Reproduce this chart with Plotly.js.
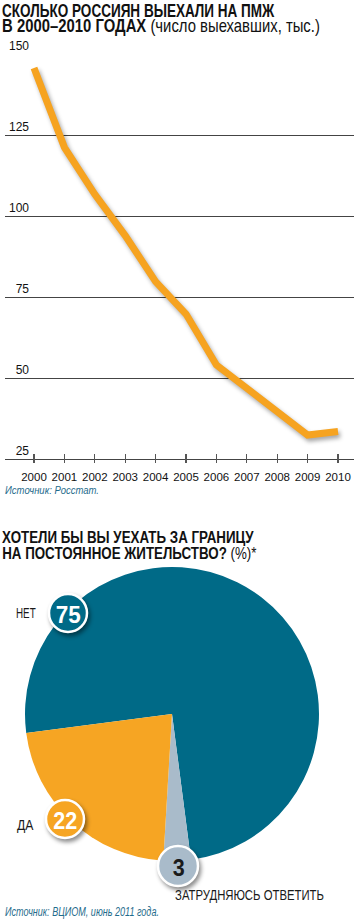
<!DOCTYPE html>
<html>
<head>
<meta charset="utf-8">
<script src="https://cdn.plot.ly/plotly-3.0.1.min.js"></script>
<style>
html,body{margin:0;padding:0;background:#fff;}
#chart{width:355px;height:920px;}
</style>
</head>
<body>
<div id="chart"></div>
<script>
// ---- data ----
const years = [2000, 2001, 2002, 2003, 2004, 2005, 2006, 2007, 2008, 2009, 2010];
const emigrants = [145.7, 121.2, 106.7, 94.0, 79.8, 69.8, 54.1, 47.0, 39.5, 32.5, 33.6];
const yTickVals = [25, 50, 75, 100, 125, 150];
const yTickText = ['\u200725', '\u200750', '\u200775', '100', '125', '150'];
const pieLabels = ['НЕТ', 'ЗАТРУДНЯЮСЬ ОТВЕТИТЬ', 'ДА'];
const pieValues = [75, 3, 22];

// ---- helpers ----
const W = 355, H = 920;
const px = x => x / W;
const py = y => 1 - y / H;
const FONT = "'Liberation Sans', Arial, sans-serif";
const BLUE = '#006a87', ORANGE = '#f6a523', GREY = '#a9bbca';

const lineTrace = {
  type: 'scatter', mode: 'lines', x: years, y: emigrants,
  xaxis: 'x', yaxis: 'y',
  line: {color: '#f6a320', width: 7, shape: 'linear'},
  hoverinfo: 'skip', showlegend: false
};

const pieTrace = {
  type: 'pie', labels: pieLabels, values: pieValues,
  marker: {colors: [BLUE, GREY, ORANGE], line: {width: 0}},
  sort: false, direction: 'clockwise', rotation: 262.6,
  textinfo: 'none', hoverinfo: 'skip', showlegend: false,
  domain: {x: [px(25), px(319)], y: [py(861), py(567)]}
};

function badge(cx, cy, r, fill) {
  return {type: 'circle', xref: 'paper', yref: 'paper', layer: 'above',
          x0: px(cx - r), x1: px(cx + r), y0: py(cy + r), y1: py(cy - r),
          fillcolor: fill, line: {color: '#ffffff', width: 2.5}};
}

// text annotations; fit = [target width in px, 'left'|'center']
const annSpecs = [];
function txt(x, y, text, size, color, anchor, fit) {
  annSpecs.push(fit);
  return {
    xref: 'paper', yref: 'paper', x: px(x), y: py(y), xanchor: anchor || 'left', yanchor: 'middle',
    text: text, showarrow: false, font: {family: FONT, size: size, color: color || '#111'}
  };
}

const annotations = [
  txt(0, 10, '<b>СКОЛЬКО РОССИЯН ВЫЕХАЛИ НА ПМЖ</b>', 19, '#111', 'left', [273, 'left']),
  txt(0, 26, '<b>В 2000–2010 ГОДАХ</b> (число выехавших, тыс.)', 19, '#111', 'left', [318, 'left']),
  txt(3, 490, '<i>Источник: Росстат.</i>', 11, '#1f6c8c', 'left', [94, 'left']),
  txt(0, 537, '<b>ХОТЕЛИ БЫ ВЫ УЕХАТЬ ЗА ГРАНИЦУ</b>', 17, '#111', 'left', [252, 'left']),
  txt(0, 553, '<b>НА ПОСТОЯННОЕ ЖИТЕЛЬСТВО?</b> (%)*', 17, '#111', 'left', [255, 'left']),
  txt(14, 613, 'НЕТ', 14, '#1a1a1a', 'left', [20, 'left']),
  txt(15, 825, 'ДА', 14, '#1a1a1a', 'left', [17, 'left']),
  txt(173, 895, 'ЗАТРУДНЯЮСЬ ОТВЕТИТЬ', 14, '#1a1a1a', 'left', [149, 'left']),
  txt(3, 912, '<i>Источник: ВЦИОМ, июнь 2011 года.</i>', 12, '#1f6c8c', 'left', [154, 'left']),
  txt(68, 614, '<b>' + pieValues[0] + '</b>', 24, '#ffffff', 'center', [25, 'center']),
  txt(65, 820, '<b>' + pieValues[2] + '</b>', 24, '#ffffff', 'center', [24, 'center']),
  txt(178, 867, '<b>' + pieValues[1] + '</b>', 24, '#1a1a1a', 'center', [12, 'center'])
];

const layout = {
  width: W, height: H,
  margin: {l: 0, r: 0, t: 0, b: 0, pad: 0},
  paper_bgcolor: '#ffffff', plot_bgcolor: 'rgba(0,0,0,0)',
  showlegend: false,
  xaxis: {
    domain: [px(5), px(354)], range: [1999.046, 2010.526],
    tickvals: years, ticktext: years.map(String), tickangle: 0,
    ticks: 'inside', ticklen: 9, tickwidth: 1.2, tickcolor: '#555',
    showline: false, showgrid: false, zeroline: false,
    ticklabelstandoff: 5,
    tickfont: {family: FONT, size: 11.5, color: '#111'},
    fixedrange: true
  },
  yaxis: {
    domain: [py(463.3), py(53)], range: [23.77, 150.3],
    tickvals: yTickVals, ticktext: yTickText,
    ticks: '', showline: false, zeroline: false,
    showgrid: true, gridcolor: '#444', gridwidth: 1,
    ticklabelposition: 'inside top', ticklabeloverflow: 'allow',
    ticklabelstandoff: 1,
    tickfont: {family: FONT, size: 12, color: '#111'},
    fixedrange: true
  },
  shapes: [badge(68, 613, 19, BLUE), badge(65, 819, 19, ORANGE), badge(178, 866, 20, GREY)],
  annotations: annotations
};

Plotly.newPlot('chart', [pieTrace, lineTrace], layout, {staticPlot: true, displayModeBar: false}).then(gd => {
  // condense annotation text horizontally to the reference widths
  annSpecs.forEach((fit, i) => {
    const t = gd.querySelector('g.annotation[data-index="' + i + '"] text.annotation-text');
    if (!t || !fit) return;
    const bb = t.getBBox();
    if (!bb.width) return;
    const s = fit[0] / bb.width;
    const ax = fit[1] === 'center' ? bb.x + bb.width / 2 : bb.x;
    t.setAttribute('transform', 'matrix(' + s + ',0,0,1,' + (ax * (1 - s)) + ',0)');
  });
  // soft drop shadows like the print graphic
  gd.querySelectorAll('.scatterlayer path.js-line').forEach(p => {
    p.style.filter = 'drop-shadow(2px 3px 2px rgba(0,0,0,0.35))';
  });
  gd.querySelectorAll('.shapelayer path').forEach(p => {
    p.style.filter = 'drop-shadow(2px 3px 2px rgba(0,0,0,0.45))';
  });
});
</script>
</body>
</html>
